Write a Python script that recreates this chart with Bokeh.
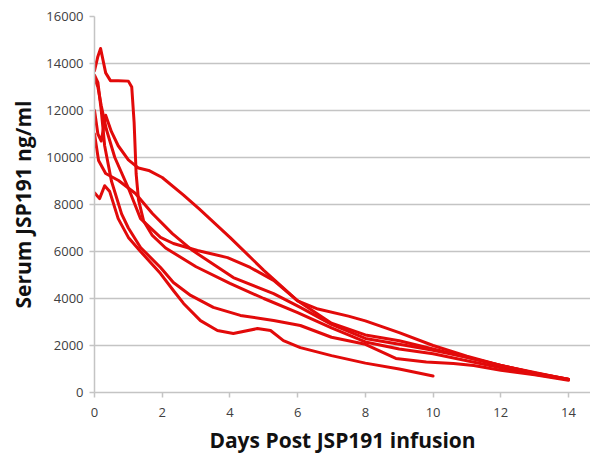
from bokeh.plotting import figure
from bokeh.embed import file_html
from bokeh.resources import INLINE
from bokeh.models import Range1d, FixedTicker

# ---- data (days, ng/ml) ----
days_a = [0, 0.1, 0.18, 0.33, 0.47, 0.7, 1.0, 1.1, 1.17, 1.23, 1.3, 1.45, 1.7, 2.1, 3.0, 4.0, 5.0, 6.0, 7.0, 8.0, 9.0, 10.0, 11.0, 12.0, 13.0, 14.0]
conc_a = [13700, 14300, 14640, 13600, 13270, 13270, 13250, 13000, 11500, 9300, 8200, 7300, 6700, 6150, 5350, 4640, 4000, 3400, 2750, 2150, 1850, 1650, 1350, 1050, 780, 550]

days_b = [0, 0.1, 0.2, 0.33, 0.5, 0.7, 1.0, 1.3, 1.6, 2.0, 2.63, 3.1, 4.0, 5.0, 6.0, 7.0, 8.0, 9.0, 10.0, 11.0, 12.0, 13.0, 14.0]
conc_b = [12000, 11000, 10700, 11800, 11100, 10500, 9900, 9550, 9450, 9150, 8400, 7800, 6600, 5200, 3900, 2950, 2450, 2200, 1850, 1500, 1150, 850, 550]

days_c = [0, 0.1, 0.2, 0.35, 0.6, 1.0, 1.36, 1.95, 2.33, 3.04, 3.93, 4.6, 5.29, 6.0, 6.6, 7.5, 8.0, 9.0, 10.0, 11.0, 12.0, 13.0, 14.0]
conc_c = [13400, 13000, 12200, 11200, 10000, 8700, 7400, 6600, 6340, 6040, 5740, 5320, 4770, 3900, 3550, 3250, 3050, 2550, 2000, 1550, 1150, 820, 560]

days_d = [0, 0.12, 0.33, 0.71, 1.21, 1.71, 2.3, 2.9, 4.1, 5.29, 6.08, 7.0, 8.0, 9.0, 10.0, 11.0, 12.0, 13.0, 14.0]
conc_d = [11000, 9870, 9320, 9020, 8470, 7620, 6760, 6040, 4890, 4210, 3620, 2900, 2300, 2050, 1800, 1500, 1150, 830, 560]

days_e = [0, 0.1, 0.2, 0.3, 0.5, 0.8, 1.0, 1.36, 1.95, 2.33, 2.84, 3.51, 4.31, 5.29, 6.08, 7.0, 8.0, 8.9, 9.8, 10.6, 11.2, 12.0, 13.0, 14.0]
conc_e = [13500, 13200, 12000, 10500, 9000, 7600, 7000, 6170, 5320, 4680, 4130, 3620, 3280, 3060, 2850, 2350, 2050, 1450, 1300, 1230, 1150, 950, 750, 520]

days_f = [0, 0.15, 0.3, 0.45, 0.7, 1.0, 1.36, 1.95, 2.33, 2.63, 3.13, 3.63, 4.1, 4.81, 5.2, 5.58, 6.08, 7.0, 8.0, 9.0, 10.0]
conc_f = [8500, 8250, 8800, 8550, 7400, 6600, 6000, 5060, 4340, 3790, 3060, 2640, 2510, 2720, 2640, 2210, 1910, 1570, 1250, 1000, 700]

series = [(days_a, conc_a), (days_b, conc_b), (days_c, conc_c),
          (days_d, conc_d), (days_e, conc_e), (days_f, conc_f)]

y_ticks = [0, 2000, 4000, 6000, 8000, 10000, 12000, 14000, 16000]
x_ticks = [0, 2, 4, 6, 8, 10, 12, 14]

p = figure(width=590, height=456, output_backend="svg", toolbar_location=None,
           x_range=Range1d(0, 14.65), y_range=Range1d(0, 16000),
           min_border_left=94, min_border_right=0, min_border_top=16, min_border_bottom=64)
p.outline_line_color = None
p.background_fill_color = "white"
p.border_fill_color = "white"

for dx, cy in series:
    p.line(dx, cy, line_color="#e20a0a", line_width=3, line_join="round", line_cap="round")

grey = "#c4c4c4"
p.xgrid.grid_line_color = None
p.ygrid.grid_line_color = grey
p.ygrid.grid_line_width = 1.5
p.yaxis.ticker = FixedTicker(ticks=y_ticks)
p.xaxis.ticker = FixedTicker(ticks=x_ticks)

for ax in (p.xaxis[0], p.yaxis[0]):
    ax.axis_line_color = grey
    ax.axis_line_width = 1.5
    ax.major_tick_line_color = grey
    ax.major_tick_line_width = 1.5
    ax.minor_tick_line_color = None
    ax.major_tick_in = 0
    ax.major_label_text_font = "Open Sans"
    ax.major_label_text_color = "#404040"
    ax.major_label_text_font_size = "13px"
    ax.axis_label_text_font = "Open Sans"
    ax.axis_label_text_font_style = "bold"
    ax.axis_label_text_color = "#111111"
    ax.axis_label_text_font_size = "21px"

p.yaxis.major_tick_out = 5
p.yaxis.major_label_standoff = 6
p.yaxis.axis_label = "Serum JSP191 ng/ml"
p.yaxis.axis_label_standoff = 6
p.xaxis.major_tick_out = 5
p.xaxis.major_label_standoff = 10
p.xaxis.axis_label = "Days Post JSP191 infusion"
p.xaxis.axis_label_standoff = 6

open("out.html", "w").write(file_html(p, INLINE))
